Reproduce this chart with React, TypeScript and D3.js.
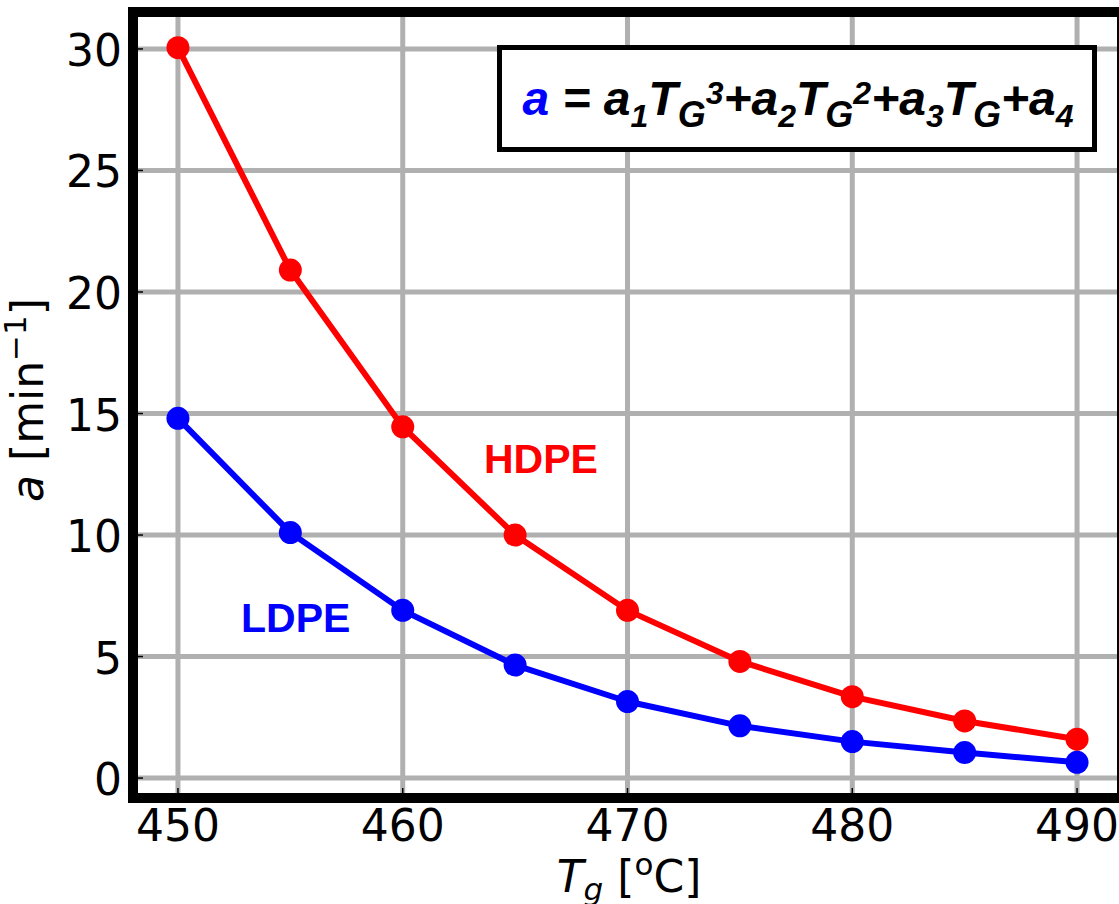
import React, { useEffect } from "react";
import * as d3 from "d3";

const temps = [450, 455, 460, 465, 470, 475, 480, 485, 490];
const hdpe = [30.05, 20.9, 14.45, 10.0, 6.9, 4.8, 3.35, 2.35, 1.6];
const ldpe = [14.8, 10.1, 6.9, 4.65, 3.15, 2.15, 1.5, 1.05, 0.65];
const xTicks = [450, 460, 470, 480, 490];
const yTicks = [0, 5, 10, 15, 20, 25, 30];

const W = 1119;
const H = 904;
const L = 133, R = 1122, T = 12, B = 798;

const SANS = "'DejaVu Sans', sans-serif";
const ARIAL = "'Liberation Sans', Arial, sans-serif";

type Seg = { t: string; size: number; shift: number; color?: string };
const eqSegs: Seg[] = [
  { t: "a", size: 48, shift: 0, color: "#0000ff" },
  { t: " = ", size: 48, shift: 0 },
  { t: "a", size: 48, shift: 0 },
  { t: "1", size: 32, shift: 12 },
  { t: "T", size: 48, shift: 0 },
  { t: "G", size: 36, shift: 12 },
  { t: "3", size: 32, shift: -11 },
  { t: "+a", size: 48, shift: 0 },
  { t: "2", size: 32, shift: 12 },
  { t: "T", size: 48, shift: 0 },
  { t: "G", size: 36, shift: 12 },
  { t: "2", size: 32, shift: -11 },
  { t: "+a", size: 48, shift: 0 },
  { t: "3", size: 32, shift: 12 },
  { t: "T", size: 48, shift: 0 },
  { t: "G", size: 36, shift: 12 },
  { t: "+a", size: 48, shift: 0 },
  { t: "4", size: 32, shift: 12 },
];

export default function App() {
  useEffect(() => {
    document.body.style.margin = "0";
  }, []);

  const all = [...hdpe, ...ldpe];
  const xMin = d3.min(temps)!, xMax = d3.max(temps)!;
  const yMin = d3.min(all)!, yMax = d3.max(all)!;
  const xPad = (xMax - xMin) * 0.05;
  const yPad = (yMax - yMin) * 0.05;
  const x = d3.scaleLinear().domain([xMin - xPad, xMax + xPad]).range([L, R]);
  const y = d3.scaleLinear().domain([yMin - yPad, yMax + yPad]).range([B, T]);

  const line = d3
    .line<number>()
    .x((_, i) => x(temps[i]))
    .y((d) => y(d));

  const series = [
    { vals: hdpe, color: "#ff0000" },
    { vals: ldpe, color: "#0000ff" },
  ];

  let prev = 0;
  const eqSpans = eqSegs.map((s, i) => {
    const dy = s.shift - prev;
    prev = s.shift;
    return (
      <tspan key={i} fontSize={s.size} dy={dy} fill={s.color || "#000"}>
        {s.t}
      </tspan>
    );
  });

  return (
    <svg
      width={W}
      height={H}
      style={{ position: "absolute", left: 0, top: 0, display: "block", background: "#fff" }}
    >
      <rect x={0} y={0} width={W} height={H} fill="#fff" />
      {/* grid */}
      <g stroke="#b0b0b0" strokeWidth={5}>
        {xTicks.map((t) => (
          <line key={"gx" + t} x1={x(t)} x2={x(t)} y1={T} y2={B} />
        ))}
        {yTicks.map((t) => (
          <line key={"gy" + t} x1={L} x2={R} y1={y(t)} y2={y(t)} />
        ))}
      </g>
      {/* ticks (inward) */}
      <g stroke="#000" strokeWidth={1.5}>
        {xTicks.map((t) => (
          <line key={"tx" + t} x1={x(t)} x2={x(t)} y1={B - 5} y2={B - 10} />
        ))}
        {yTicks.map((t) => (
          <line key={"ty" + t} x1={L + 5} x2={L + 10} y1={y(t)} y2={y(t)} />
        ))}
      </g>
      {/* series */}
      {series.map((s, si) => (
        <g key={si}>
          <path d={line(s.vals) || ""} fill="none" stroke={s.color} strokeWidth={6} strokeLinejoin="round" />
          {s.vals.map((v, i) => (
            <circle key={i} cx={x(temps[i])} cy={y(v)} r={11.5} fill={s.color} />
          ))}
        </g>
      ))}
      {/* series labels */}
      <text x={484} y={473} fontFamily={ARIAL} fontWeight="bold" fontSize={41} fill="#ff0000">
        HDPE
      </text>
      <text x={241} y={632} fontFamily={ARIAL} fontWeight="bold" fontSize={41} fill="#0000ff">
        LDPE
      </text>
      {/* equation box */}
      <rect x={499.5} y={47.5} width={595} height={102} fill="#fff" stroke="#000" strokeWidth={5} />
      <text
        x={798}
        y={115}
        textAnchor="middle"
        fontFamily={ARIAL}
        fontWeight="bold"
        fontStyle="italic"
        style={{ whiteSpace: "pre" }}
      >
        {eqSpans}
      </text>
      {/* spines */}
      <rect x={L} y={T} width={R - L} height={B - T} fill="none" stroke="#000" strokeWidth={10} />
      {/* tick labels */}
      <g fontFamily={SANS} fontSize={44} fill="#000">
        {xTicks.map((t) => (
          <text key={"lx" + t} x={x(t)} y={841} textAnchor="middle">
            {t}
          </text>
        ))}
        {yTicks.map((t) => (
          <text key={"ly" + t} x={122} y={y(t) + 17} textAnchor="end">
            {t}
          </text>
        ))}
      </g>
      {/* axis labels */}
      <text
        x={629}
        y={892}
        textAnchor="middle"
        fontFamily={SANS}
        fontSize={44}
        fill="#000"
        style={{ whiteSpace: "pre" }}
      >
        <tspan fontStyle="italic">T</tspan>
        <tspan fontStyle="italic" fontSize={31} dy={8}>g</tspan>
        <tspan dy={-8}> [</tspan>
        <tspan fontSize={31} dy={-17}>o</tspan>
        <tspan dy={17}>C]</tspan>
      </text>
      <text
        transform={`translate(43, 400) rotate(-90)`}
        textAnchor="middle"
        fontFamily={SANS}
        fontSize={44}
        fill="#000"
        style={{ whiteSpace: "pre" }}
      >
        <tspan fontStyle="italic">a</tspan>
        <tspan> [min</tspan>
        <tspan fontSize={31} dy={-17}>−1</tspan>
        <tspan dy={17}>]</tspan>
      </text>
    </svg>
  );
}
